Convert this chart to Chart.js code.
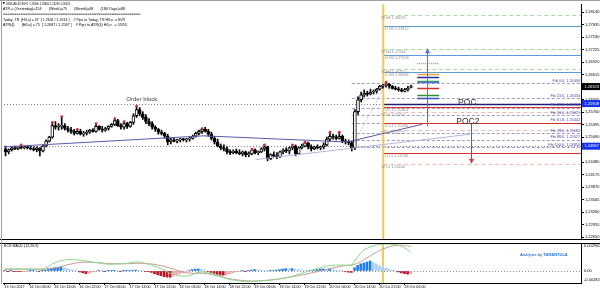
<!DOCTYPE html>
<html>
<head>
<meta charset="utf-8">
<script src="https://cdn.jsdelivr.net/npm/chart.js@4.4.0/dist/chart.umd.min.js"></script>
<style>
  html, body { margin: 0; padding: 0; background: #fff; }
  #wrap { position: relative; width: 600px; height: 293px; overflow: hidden; background: #fff; }
  .pane { position: absolute; left: 0; width: 600px; }
  .edge { position: absolute; background: #a0a0a0; }
</style>
</head>
<body>
<div id="wrap">
  <div class="pane" style="top:0;height:243px"><canvas id="main"></canvas></div>
  <div class="pane" style="top:243px;height:50px"><canvas id="macd"></canvas></div>
  <div class="edge" style="left:0;top:0;width:600px;height:1px"></div>
  <div class="edge" style="left:1px;top:0;width:1px;height:284px"></div>
</div>
<script>
// time axis, one label every 8 H1 bars
var xLabels = ['13 Oct 2017','16 Oct 06:00','16 Oct 14:00','16 Oct 22:00','17 Oct 06:00','17 Oct 14:00',
  '17 Oct 22:00','18 Oct 06:00','18 Oct 14:00','18 Oct 22:00','19 Oct 06:00','19 Oct 14:00',
  '19 Oct 22:00','20 Oct 06:00','20 Oct 14:00','20 Oct 22:00','23 Oct 06:00'];
var xTickIdx = [0,8,16,24,32,40,48,56,64,72,80,88,96,104,112,120,128];
var yTicks = [1.28140,1.27835,1.27530,1.27225,1.26920,1.26615,1.26005,1.25700,1.25395,
  1.25090,1.24480,1.24175,1.23870,1.23565,1.23260,1.22955,1.22650];

// USDCAD H1 candles
var opens = [
1.2480,1.2473,1.2478,1.2483,1.2480,1.2485,1.2483,1.2485,1.2483,1.2480,
1.2478,1.2483,1.2475,1.2487,1.2499,1.2509,1.2537,1.2533,1.2535,1.2537,
1.2530,1.2526,1.2523,1.2518,1.2523,1.2516,1.2518,1.2521,1.2526,1.2523,
1.2535,1.2528,1.2526,1.2530,1.2535,1.2540,1.2549,1.2537,1.2533,1.2542,
1.2535,1.2545,1.2561,1.2576,1.2566,1.2557,1.2547,1.2542,1.2533,1.2528,
1.2521,1.2518,1.2511,1.2497,1.2502,1.2499,1.2502,1.2504,1.2502,1.2504,
1.2506,1.2511,1.2518,1.2523,1.2528,1.2523,1.2516,1.2506,1.2497,1.2487,
1.2483,1.2480,1.2473,1.2471,1.2475,1.2471,1.2468,1.2473,1.2466,1.2468,
1.2478,1.2471,1.2473,1.2480,1.2485,1.2456,1.2466,1.2463,1.2461,1.2473,
1.2478,1.2475,1.2483,1.2487,1.2468,1.2483,1.2487,1.2495,1.2485,1.2480,
1.2485,1.2483,1.2485,1.2490,1.2504,1.2511,1.2509,1.2506,1.2511,1.2499,
1.2497,1.2495,1.2483,1.2571,1.2600,1.2612,1.2616,1.2614,1.2619,1.2621,
1.2626,1.2633,1.2635,1.2638,1.2633,1.2628,1.2626,1.2624,1.2621,1.2624,
1.2630];
var highs = [
1.2487,1.2480,1.2485,1.2487,1.2485,1.2490,1.2487,1.2487,1.2487,1.2485,
1.2485,1.2483,1.2490,1.2502,1.2511,1.2545,1.2547,1.2542,1.2559,1.2542,
1.2535,1.2533,1.2528,1.2528,1.2528,1.2523,1.2526,1.2528,1.2530,1.2542,
1.2537,1.2535,1.2533,1.2537,1.2542,1.2554,1.2552,1.2542,1.2547,1.2545,
1.2547,1.2566,1.2585,1.2581,1.2571,1.2564,1.2554,1.2547,1.2537,1.2530,
1.2526,1.2521,1.2516,1.2506,1.2506,1.2504,1.2506,1.2506,1.2506,1.2509,
1.2514,1.2521,1.2526,1.2530,1.2533,1.2528,1.2521,1.2511,1.2504,1.2492,
1.2490,1.2485,1.2478,1.2478,1.2480,1.2478,1.2475,1.2475,1.2473,1.2480,
1.2480,1.2475,1.2483,1.2490,1.2487,1.2468,1.2473,1.2471,1.2475,1.2480,
1.2483,1.2485,1.2490,1.2490,1.2485,1.2492,1.2497,1.2497,1.2490,1.2487,
1.2490,1.2487,1.2495,1.2509,1.2521,1.2516,1.2514,1.2521,1.2514,1.2504,
1.2502,1.2499,1.2576,1.2607,1.2619,1.2624,1.2621,1.2626,1.2624,1.2628,
1.2635,1.2638,1.2643,1.2640,1.2635,1.2633,1.2631,1.2628,1.2628,1.2633,
1.2636];
var lows = [
1.2463,1.2468,1.2475,1.2478,1.2478,1.2480,1.2480,1.2480,1.2478,1.2475,
1.2473,1.2463,1.2473,1.2485,1.2497,1.2506,1.2528,1.2526,1.2528,1.2526,
1.2521,1.2518,1.2514,1.2516,1.2514,1.2511,1.2514,1.2518,1.2521,1.2521,
1.2526,1.2521,1.2523,1.2526,1.2533,1.2537,1.2535,1.2528,1.2528,1.2530,
1.2533,1.2540,1.2557,1.2561,1.2552,1.2542,1.2537,1.2528,1.2523,1.2516,
1.2514,1.2506,1.2490,1.2492,1.2497,1.2495,1.2497,1.2499,1.2497,1.2499,
1.2504,1.2509,1.2514,1.2518,1.2521,1.2511,1.2502,1.2492,1.2485,1.2478,
1.2475,1.2468,1.2466,1.2468,1.2468,1.2466,1.2463,1.2461,1.2461,1.2466,
1.2468,1.2466,1.2471,1.2475,1.2451,1.2454,1.2461,1.2456,1.2459,1.2468,
1.2471,1.2468,1.2478,1.2463,1.2466,1.2480,1.2485,1.2480,1.2475,1.2478,
1.2480,1.2478,1.2480,1.2487,1.2499,1.2504,1.2502,1.2504,1.2495,1.2492,
1.2490,1.2475,1.2478,1.2564,1.2595,1.2607,1.2609,1.2612,1.2614,1.2616,
1.2624,1.2628,1.2631,1.2628,1.2626,1.2624,1.2621,1.2619,1.2619,1.2621,
1.2629];
var closes = [
1.2473,1.2478,1.2483,1.2480,1.2485,1.2483,1.2485,1.2483,1.2480,1.2478,
1.2483,1.2475,1.2487,1.2499,1.2509,1.2537,1.2533,1.2535,1.2537,1.2530,
1.2526,1.2523,1.2518,1.2523,1.2516,1.2518,1.2521,1.2526,1.2523,1.2535,
1.2528,1.2526,1.2530,1.2535,1.2540,1.2549,1.2537,1.2533,1.2542,1.2535,
1.2545,1.2561,1.2576,1.2566,1.2557,1.2547,1.2542,1.2533,1.2528,1.2521,
1.2518,1.2511,1.2497,1.2502,1.2499,1.2502,1.2504,1.2502,1.2504,1.2506,
1.2511,1.2518,1.2523,1.2528,1.2523,1.2516,1.2506,1.2497,1.2487,1.2483,
1.2480,1.2473,1.2471,1.2475,1.2471,1.2468,1.2473,1.2466,1.2468,1.2478,
1.2471,1.2473,1.2480,1.2485,1.2456,1.2466,1.2463,1.2461,1.2473,1.2478,
1.2475,1.2483,1.2487,1.2468,1.2483,1.2487,1.2495,1.2485,1.2480,1.2485,
1.2483,1.2485,1.2490,1.2504,1.2511,1.2509,1.2506,1.2511,1.2499,1.2497,
1.2495,1.2483,1.2571,1.2600,1.2612,1.2616,1.2614,1.2619,1.2621,1.2626,
1.2633,1.2635,1.2638,1.2633,1.2628,1.2626,1.2624,1.2621,1.2624,1.2628,
1.2632];
var fractalIdx = [5,15,18,23,29,35,38,42,63,79,83,92,96,104,107,122];

// ECS MACD, in units of 0.0001
var macdMain = [
2,2,2,2,2,2,2,2,2,2, 2,1.5,2,3,4.5,7,8.5,10,11,11.5,
12,12,12,11.8,11.5,11,10.5,10,9.5,9, 8.5,8,7.5,7.2,7,7.2,7.5,7.5,7.8,8,
8.5,9,9.5,9.5,9,8,7,6,5,4, 2.5,1,-1,-2.5,-3.5,-4.5,-5,-5.5,-5.5,-5,
-4,-2.5,-1.5,-1,-1.2,-2,-3,-4,-5,-6, -7,-8,-9,-9.6,-10,-10.5,-10.8,-11,-11,-11,
-11,-10.8,-10.5,-10.2,-10,-9.8,-9.5,-9,-8.5,-8, -7.3,-6.5,-5.7,-4.5,-3.5,-2.5,-1.5,-0.5,0.5,1.5,
2.5,3.5,4.3,5,5.6,6,6.2,6.3,6.3,6.2, 6,5.8,10,15,19,22,24,25.5,26.5,27.5,
28,28.4,28.5,28.4,28.2,27.8,27.3,26,24.5,22.5, 20];
var macdSignal = [
2,2,2,2,2,2,2,2,2,2, 2,2,2,2,2.2,2.5,3,3.5,4.5,5.5,
6.5,7.2,8,8.5,9,9.2,9.3,9.3,9.2,9, 8.8,8.5,8.3,8,7.8,7.7,7.6,7.6,7.6,7.7,
7.8,8,8.1,8.2,8.2,8,7.8,7.4,7,6.4, 5.7,4.9,4,3,2,1,0,-1,-1.6,-2.1,
-2.4,-2.5,-2.4,-2.4,-2.6,-3,-3.6,-4.3,-5,-5.8, -6.6,-7.4,-8.1,-8.7,-9.2,-9.6,-10,-10.3,-10.5,-10.6,
-10.6,-10.5,-10.3,-10.1,-9.8,-9.5,-9.1,-8.7,-8.2,-7.7, -7.2,-6.7,-6.1,-5.5,-4.9,-4.3,-3.6,-2.9,-2.2,-1.5,
-0.8,0,0.8,1.6,2.4,3.2,3.9,4.6,5.2,5.7, 6.1,6.3,7,8.2,10,12,14,16,18,19.8,
21.5,23,24.3,25.4,26.3,27,27.3,27.3,27,26.4, 25.6];
var macdHist = [
0.3,-0.2,0.2,-0.3,-0.5,-0.6,-0.4,-0.2,0.2,0.3, 0.2,-0.2,0.3,1,2,3,3.5,4,4.2,3.5,
2.5,1.5,1,0.5,-1,-2,-2.8,-2.5,-1.2,-0.5, 0.3,0.2,-0.3,0.4,0.6,0.8,0.4,-0.3,0.2,0.3,
0.5,0.8,1,0.6,0.2,-0.4,-0.8,-1.5,-3,-4, -5,-6,-6.5,-6.6,-5.5,-4,-3,-2,-1,0.5,
1.5,2,2.2,1.8,1,-0.5,-1.5,-2.5,-3.5,-4.3, -4.5,-4,-3,-2,-1,-0.5,0.3,-0.2,0.3,1,
1.5,1.3,0.8,0.4,0.2,0.3,0.5,1,1.5,2, 2.5,2.3,2.6,2,1.5,1,0.6,0.3,0.4,0.8,
1.5,2,2.2,2,2.3,1.5,0.8,0.5,0.3,-0.5, -1.2,-1.5,3.5,6,7.5,8.5,9.5,10.5,9,7.5,
5.5,4,2.8,1.7,0.9,0.3,-1,-2,-2.8,-3.3, -2.8];
var macdAxisLabels = ['0.002960', '0.00', '-0.001820'];

// drawn objects on the price chart
var fibPct = [0.0, 23.6, 38.2, 50.0, 61.8, 78.6, 88.6, 100.0];
var fibValues = [1.26400, 1.26034, 1.25808, 1.25625, 1.25442, 1.25182, 1.25027, 1.24850];
var pivotNames  = ['W H5','D H5','W H4','D H4','W H3','D H3','D L3','W L3','D L4','W L4','D L5','W L5'];
var pivotValues = [1.28070,1.27812,1.27246,1.27103,1.26750,1.26683,1.25824,1.25712,1.25430,1.25272,1.24706,1.24440];
var dottedLevels = [1.25908, 1.24867];
var pocLevel = 1.25908, poc2Level = 1.25430;
var markValues = [1.2690, 1.2664, 1.2655, 1.2647, 1.2643, 1.2628, 1.2612, 1.2604];
var markColors = ['#9a9a9a', '#e8a040', '#2c2c8c', '#3aa83a', '#4a70e0', '#d42e2e', '#2e8a2e', '#3050c8'];
var markRange = [132, 139];
var trendA = [[-0.5, 1.2485], [63.5, 1.2512], [109.6, 1.2497]];
var trendB = [[109.6, 1.2497], [133.5, 1.2540]];
var trendC = [[80.2, 1.2454], [149, 1.2516]];
var fibDiag = [[111, 1.2485], [122, 1.2640]];
var arrowUp = {idx: 135.2, from: 1.2535, to: 1.2726};
var arrowDown = {idx: 149.3, from: 1.2543, to: 1.2444};
var sepIdx = 121.1;
var priceBoxes = [[1.26323, '#000000'], [1.25908, '#1432e6'], [1.24867, '#1432e6']];
var headerLines = [
  'USDCAD-ECN,H1  1.26300 1.26360 1.26290 1.26323',
  'ATR = (Yesterday)=154       (Week)=75       (Month)=68       (180 Days)=88',
  '==============================================================',
  'Today_TR  [H/Lo] = 37  [ 1.2641 / 1.2614 ]    // Pips to Today_TR H/Lo  = 8/29',
  'ATR(4)       [H/Lo] = 75  [ 1.2687 / 1.2587 ]    // Pips to ATR(4) H/Lo   = 55/55'
];

var X_MIN = -0.5, X_MAX = 184.5;
var MAIN_MIN = 1.22602, MAIN_MAX = 1.28338;
var MACD_MIN = -0.00127, MACD_MAX = 0.00296;
var FONT = '"Liberation Sans", Arial, sans-serif';

Chart.defaults.font.family = FONT;
Chart.defaults.color = '#000';

function hline(ctx, x0, x1, y, color, w, dash) {
  ctx.save();
  ctx.strokeStyle = color;
  ctx.lineWidth = w;
  ctx.setLineDash(dash || []);
  var yy = Math.round(y) + 0.5;
  ctx.beginPath(); ctx.moveTo(x0, yy); ctx.lineTo(x1, yy); ctx.stroke();
  ctx.restore();
}
function vline(ctx, x, y0, y1, color, w) {
  ctx.save();
  ctx.strokeStyle = color; ctx.lineWidth = w;
  ctx.beginPath(); ctx.moveTo(x, y0); ctx.lineTo(x, y1); ctx.stroke();
  ctx.restore();
}
function txt(ctx, s, x, y, font, color, align, base, maxW) {
  ctx.save();
  ctx.font = font; ctx.fillStyle = color;
  ctx.textAlign = align || 'left'; ctx.textBaseline = base || 'middle';
  if (maxW) ctx.fillText(s, x, y, maxW); else ctx.fillText(s, x, y);
  ctx.restore();
}
function vArrow(ctx, x, y0, y1, color) {
  var xx = Math.round(x) + 0.5;
  var d = y1 < y0 ? 1 : -1;
  ctx.save();
  ctx.strokeStyle = color; ctx.fillStyle = color; ctx.lineWidth = 1;
  ctx.beginPath(); ctx.moveTo(xx, y0); ctx.lineTo(xx, y1 + d * 2); ctx.stroke();
  ctx.beginPath(); ctx.moveTo(xx, y1); ctx.lineTo(xx - 2.5, y1 + d * 5); ctx.lineTo(xx + 2.5, y1 + d * 5);
  ctx.closePath(); ctx.fill();
  ctx.restore();
}
function pts(list) { return list.map(function (p) { return {x: p[0], y: p[1]}; }); }

var mainOverlay = {
  id: 'mainOverlay',
  beforeDatasetsDraw: function (chart) {
    var ctx = chart.ctx, a = chart.chartArea, x = chart.scales.x, y = chart.scales.y;
    var xSep = x.getPixelForValue(sepIdx);
    dottedLevels.forEach(function (v) { hline(ctx, a.left, a.right, y.getPixelForValue(v), '#7c7ca6', 1, [1, 2]); });
    var xf = x.getPixelForValue(fibDiag[0][0]);
    fibValues.forEach(function (v) { hline(ctx, xf, a.right, y.getPixelForValue(v), '#9c9cc4', 1, [3, 2]); });
    pivotNames.forEach(function (n, k) {
      var weekly = n[0] === 'W', high = n[2] === 'H';
      var col = weekly ? (high ? '#a6dba6' : '#f2b8b8') : (high ? '#5e9ad6' : '#d42e2e');
      hline(ctx, xSep, a.right, y.getPixelForValue(pivotValues[k]), col, 1, weekly ? [4, 3] : []);
    });
    hline(ctx, xSep, a.right, y.getPixelForValue(pocLevel), '#1d1d7a', 1.5);
    var m0 = x.getPixelForValue(markRange[0]), m1 = x.getPixelForValue(markRange[1]);
    markValues.forEach(function (v, k) {
      hline(ctx, m0, m1, y.getPixelForValue(v), markColors[k], 1.5, k === 0 ? [1, 1] : []);
    });
    vline(ctx, xSep, a.top, a.bottom, '#f2c85a', 2);
  },
  afterDatasetsDraw: function (chart) {
    var ctx = chart.ctx, a = chart.chartArea, x = chart.scales.x, y = chart.scales.y;
    vArrow(ctx, x.getPixelForValue(arrowUp.idx), y.getPixelForValue(arrowUp.from), y.getPixelForValue(arrowUp.to), '#4d6fe0');
    vArrow(ctx, x.getPixelForValue(arrowDown.idx), y.getPixelForValue(arrowDown.from), y.getPixelForValue(arrowDown.to), '#d23a3a');

    var small = '3.8px ' + FONT;
    var xSep = x.getPixelForValue(sepIdx);
    pivotNames.forEach(function (n, k) {
      var xt = n[0] === 'W' ? xSep - 2 : xSep + 2;
      txt(ctx, n + ' ' + pivotValues[k].toFixed(5), xt, y.getPixelForValue(pivotValues[k]) + 1.2, small, '#8c8c8c', 'left', 'top');
    });
    fibPct.forEach(function (p, k) {
      txt(ctx, 'Fib ' + p.toFixed(1) + ', ' + fibValues[k].toFixed(5), a.right - 1,
          y.getPixelForValue(fibValues[k]) - 0.5, small, '#4848a8', 'right', 'bottom');
    });

    txt(ctx, 'Order block', x.getPixelForValue(43.7), y.getPixelForValue(pocLevel) - 2.5, '6px ' + FONT, '#3c3c3c', 'center', 'alphabetic');
    txt(ctx, 'POC', x.getPixelForValue(145.1), y.getPixelForValue(pocLevel) + 1.3, '8.5px ' + FONT, '#333', 'left', 'alphabetic');
    txt(ctx, 'POC2', x.getPixelForValue(144.5), y.getPixelForValue(poc2Level) + 0.5, '8.5px ' + FONT, '#333', 'left', 'alphabetic');

    var hw = [64, 122, 138, 122, 124];
    var hy = [3.5, 8.5, 14, 19.5, 24.5];
    headerLines.forEach(function (s, k) {
      txt(ctx, s, k === 0 ? 6 : 3, hy[k], '3.8px ' + FONT, '#000', 'left', 'middle', hw[k]);
    });
    ctx.save(); ctx.fillStyle = '#202020';
    ctx.beginPath(); ctx.moveTo(2.5, 2); ctx.lineTo(5, 2); ctx.lineTo(3.75, 4.5); ctx.closePath(); ctx.fill();
    ctx.restore();
  },
  afterDraw: function (chart) {
    var ctx = chart.ctx, a = chart.chartArea, y = chart.scales.y;
    priceBoxes.forEach(function (b) {
      var py = y.getPixelForValue(b[0]);
      ctx.save(); ctx.fillStyle = b[1]; ctx.fillRect(a.right + 1, py - 3.5, 19, 7); ctx.restore();
      txt(ctx, b[0].toFixed(5), a.right + 3.5, py, '4px ' + FONT, '#fff', 'left', 'middle');
    });
    ctx.save(); ctx.fillStyle = '#000'; ctx.fillRect(0, a.bottom, chart.width, 1); ctx.restore();
  }
};

var macdOverlay = {
  id: 'macdOverlay',
  beforeDatasetsDraw: function (chart) {
    var ctx = chart.ctx, a = chart.chartArea, x = chart.scales.x, y = chart.scales.y;
    hline(ctx, a.left, a.right, y.getPixelForValue(0), '#8c8c8c', 1, [1, 2]);
    vline(ctx, x.getPixelForValue(sepIdx), a.top, a.bottom, '#f2c85a', 2);
  },
  afterDraw: function (chart) {
    var ctx = chart.ctx, a = chart.chartArea, y = chart.scales.y;
    ctx.save(); ctx.fillStyle = '#000'; ctx.fillRect(0, 0, chart.width, 1); ctx.restore();
    txt(ctx, 'ECS MACD (12,26,9)', a.left + 1, a.top + 3, '3.6px ' + FONT, '#000', 'left', 'middle');
    txt(ctx, 'Analysis by TARANTULA', a.right - 61, a.top + 12, 'bold 4px ' + FONT, '#2a78d2', 'left', 'middle');
    var xl = a.right + 3;
    txt(ctx, macdAxisLabels[0], xl, a.top + 1, '4px ' + FONT, '#000', 'left', 'top');
    txt(ctx, macdAxisLabels[1], xl, y.getPixelForValue(0), '4px ' + FONT, '#000', 'left', 'middle');
    txt(ctx, macdAxisLabels[2], xl, a.bottom - 1, '4px ' + FONT, '#000', 'left', 'bottom');
  }
};

var idx = opens.map(function (_, i) { return i; });
var bodyData = idx.map(function (i) { return {x: i, y: [opens[i], closes[i]]}; });
var wickData = idx.map(function (i) { return {x: i, y: [lows[i], highs[i]]}; });
var bodyFill = idx.map(function (i) { return closes[i] >= opens[i] ? '#ffffff' : '#000000'; });

new Chart(document.getElementById('main'), {
  type: 'bar',
  data: {
    datasets: [
      {type: 'line', data: fractalIdx.map(function (i) { return {x: i, y: highs[i]}; }), showLine: false,
       pointRadius: 1.3, pointBackgroundColor: '#e02424', pointBorderWidth: 0, order: -2},
      {type: 'line', data: pts(trendA), borderColor: '#5a5aa8', borderWidth: 1, pointRadius: 0, order: -1},
      {type: 'line', data: pts(trendB), borderColor: '#5a5aa8', borderWidth: 1, pointRadius: 0, order: -1},
      {type: 'line', data: pts(trendC), borderColor: '#b4b4e0', borderWidth: 1, pointRadius: 0, order: -1},
      {type: 'line', data: pts(fibDiag), borderColor: '#d49a9a', borderWidth: 1, borderDash: [1, 2], pointRadius: 0, order: -1},
      {type: 'bar', data: bodyData, backgroundColor: bodyFill, borderColor: '#000', borderWidth: 1,
       borderSkipped: false, barThickness: 3, minBarLength: 1, grouped: false, order: 1},
      {type: 'bar', data: wickData, backgroundColor: '#000', barThickness: 1, grouped: false, order: 2}
    ]
  },
  options: {
    responsive: true, maintainAspectRatio: false, animation: false, events: [],
    layout: {padding: {left: 3, top: 2, right: 0, bottom: 1}},
    plugins: {legend: {display: false}, tooltip: {enabled: false}},
    scales: {
      x: {type: 'linear', min: X_MIN, max: X_MAX, display: false, offset: false, grid: {offset: false}},
      y: {
        type: 'linear', position: 'right', min: MAIN_MIN, max: MAIN_MAX, beginAtZero: false,
        afterBuildTicks: function (s) { s.ticks = yTicks.map(function (v) { return {value: v}; }); },
        afterFit: function (s) { s.width = 19; s.paddingTop = 0; s.paddingBottom = 0; },
        ticks: {autoSkip: false, padding: 1, font: {size: 4}, color: '#000',
                callback: function (v) { return v.toFixed(5); }},
        grid: {drawOnChartArea: false, drawTicks: true, tickLength: 3, color: '#000'},
        border: {display: true, color: '#000', width: 1}
      }
    }
  },
  plugins: [mainOverlay]
});

var histColors = macdHist.map(function (v, i) {
  var p = i ? macdHist[i - 1] : 0;
  if (v >= 0) return v >= p ? '#1e7fe6' : '#a9cdf2';
  return v <= p ? '#b8182c' : '#eaa6ae';
});

new Chart(document.getElementById('macd'), {
  type: 'bar',
  data: {
    datasets: [
      {type: 'line', data: macdMain.map(function (v, i) { return {x: i, y: v * 1e-4}; }),
       borderColor: '#86d886', borderWidth: 1, pointRadius: 0, order: 0},
      {type: 'line', data: macdSignal.map(function (v, i) { return {x: i, y: v * 1e-4}; }),
       borderColor: '#c89898', borderWidth: 1, pointRadius: 0, order: 0},
      {type: 'bar', data: macdHist.map(function (v, i) { return {x: i, y: v * 1e-4}; }),
       backgroundColor: histColors, barThickness: 2, grouped: false, order: 2}
    ]
  },
  options: {
    responsive: true, maintainAspectRatio: false, animation: false, events: [],
    layout: {padding: {left: 3, top: 0, right: 0, bottom: 0}},
    plugins: {legend: {display: false}, tooltip: {enabled: false}},
    scales: {
      x: {
        type: 'linear', position: 'bottom', min: X_MIN, max: X_MAX, offset: false,
        afterBuildTicks: function (s) { s.ticks = xTickIdx.map(function (v) { return {value: v}; }); },
        afterFit: function (s) { s.height = 10; s.paddingLeft = 0; s.paddingRight = 0; },
        ticks: {autoSkip: false, maxRotation: 0, minRotation: 0, align: 'start', padding: 0,
                font: {size: 3.7}, color: '#000',
                callback: function (v, i) { return xLabels[i]; }},
        grid: {drawOnChartArea: false, drawTicks: true, tickLength: 2, color: '#000', offset: false},
        border: {display: true, color: '#000'}
      },
      y: {
        type: 'linear', position: 'right', min: MACD_MIN, max: MACD_MAX,
        afterFit: function (s) { s.width = 19; s.paddingTop = 0; s.paddingBottom = 0; },
        ticks: {display: false},
        grid: {drawOnChartArea: false, drawTicks: false},
        border: {display: true, color: '#000'}
      }
    }
  },
  plugins: [macdOverlay]
});
</script>
</body>
</html>
